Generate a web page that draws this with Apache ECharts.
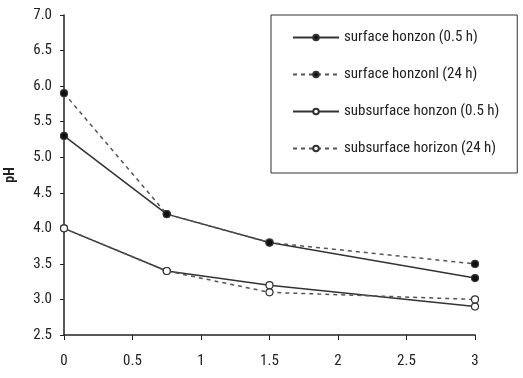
<!DOCTYPE html>
<html>
<head>
<meta charset="utf-8">
<script src="https://cdn.jsdelivr.net/npm/echarts@6/dist/echarts.min.js"></script>
<style>
  html, body { margin: 0; padding: 0; background: #fff; }
  #chart { width: 523px; height: 378px; }
</style>
</head>
<body>
<div id="chart"></div>
<script>
// Time points (h) and pH readings for each horizon / equilibration time
const times = [0, 0.75, 1.5, 3];
const surface05 = [5.3, 4.2, 3.8, 3.3];
const surface24 = [5.9, 4.2, 3.8, 3.5];
const subsurface05 = [4.0, 3.4, 3.2, 2.9];
const subsurface24 = [4.0, 3.4, 3.1, 3.0];
const seriesNames = [
  'surface honzon (0.5 h)',
  'surface honzonl (24 h)',
  'subsurface honzon (0.5 h)',
  'subsurface horizon (24 h)'
];

const font = '"Roboto Condensed", "Liberation Sans Narrow", "Liberation Sans", Arial, sans-serif';
const ink = '#222';

function pairs(vals) { return times.map((t, i) => [t, vals[i]]); }

function makeSeries(name, vals, dashed, filled, color) {
  return {
    name: name,
    type: 'line',
    data: pairs(vals),
    symbol: 'circle',
    symbolSize: 7,
    showSymbol: true,
    lineStyle: { color: color, width: 1.5, type: dashed ? [4, 4] : 'solid' },
    itemStyle: { color: filled ? '#111' : '#fff', borderColor: '#333', borderWidth: 1.2 },
    emphasis: { disabled: true },
    z: dashed ? 3 : 2
  };
}

const chart = echarts.init(document.getElementById('chart'), null, { renderer: 'canvas' });
chart.setOption({
  animation: false,
  backgroundColor: '#fff',
  grid: { left: 64, right: 48, top: 15, bottom: 43, containLabel: false, outerBoundsMode: 'none' },
  legend: {
    orient: 'vertical',
    left: 271,
    top: 15,
    padding: [15, 18, 17, 21],
    itemGap: 22,
    itemWidth: 46,
    itemHeight: 7,
    borderColor: '#333',
    borderWidth: 1,
    textStyle: { fontFamily: font, fontSize: 15, color: ink },
    data: seriesNames
  },
  xAxis: {
    type: 'value',
    min: 0, max: 3, interval: 0.5,
    axisLine: { onZero: false, lineStyle: { color: ink, width: 1.5 } },
    axisTick: { show: true, length: 5, lineStyle: { color: ink } },
    splitLine: { show: false },
    axisLabel: { fontFamily: font, fontSize: 15, color: ink, margin: 19 }
  },
  yAxis: {
    type: 'value',
    name: 'pH',
    nameLocation: 'middle',
    nameGap: 47,
    nameTextStyle: { fontFamily: font, fontSize: 14, fontWeight: 'bold', color: ink },
    min: 2.5, max: 7.0, interval: 0.5,
    axisLine: { show: true, lineStyle: { color: ink, width: 1.5 } },
    axisTick: { show: true, length: 4, lineStyle: { color: ink } },
    splitLine: { show: false },
    axisLabel: { fontFamily: font, fontSize: 15, color: ink, margin: 12, formatter: v => v.toFixed(1) }
  },
  series: [
    makeSeries(seriesNames[0], surface05, false, true, '#333'),
    makeSeries(seriesNames[1], surface24, true, true, '#555'),
    makeSeries(seriesNames[2], subsurface05, false, false, '#333'),
    makeSeries(seriesNames[3], subsurface24, true, false, '#555')
  ]
});
</script>
</body>
</html>
